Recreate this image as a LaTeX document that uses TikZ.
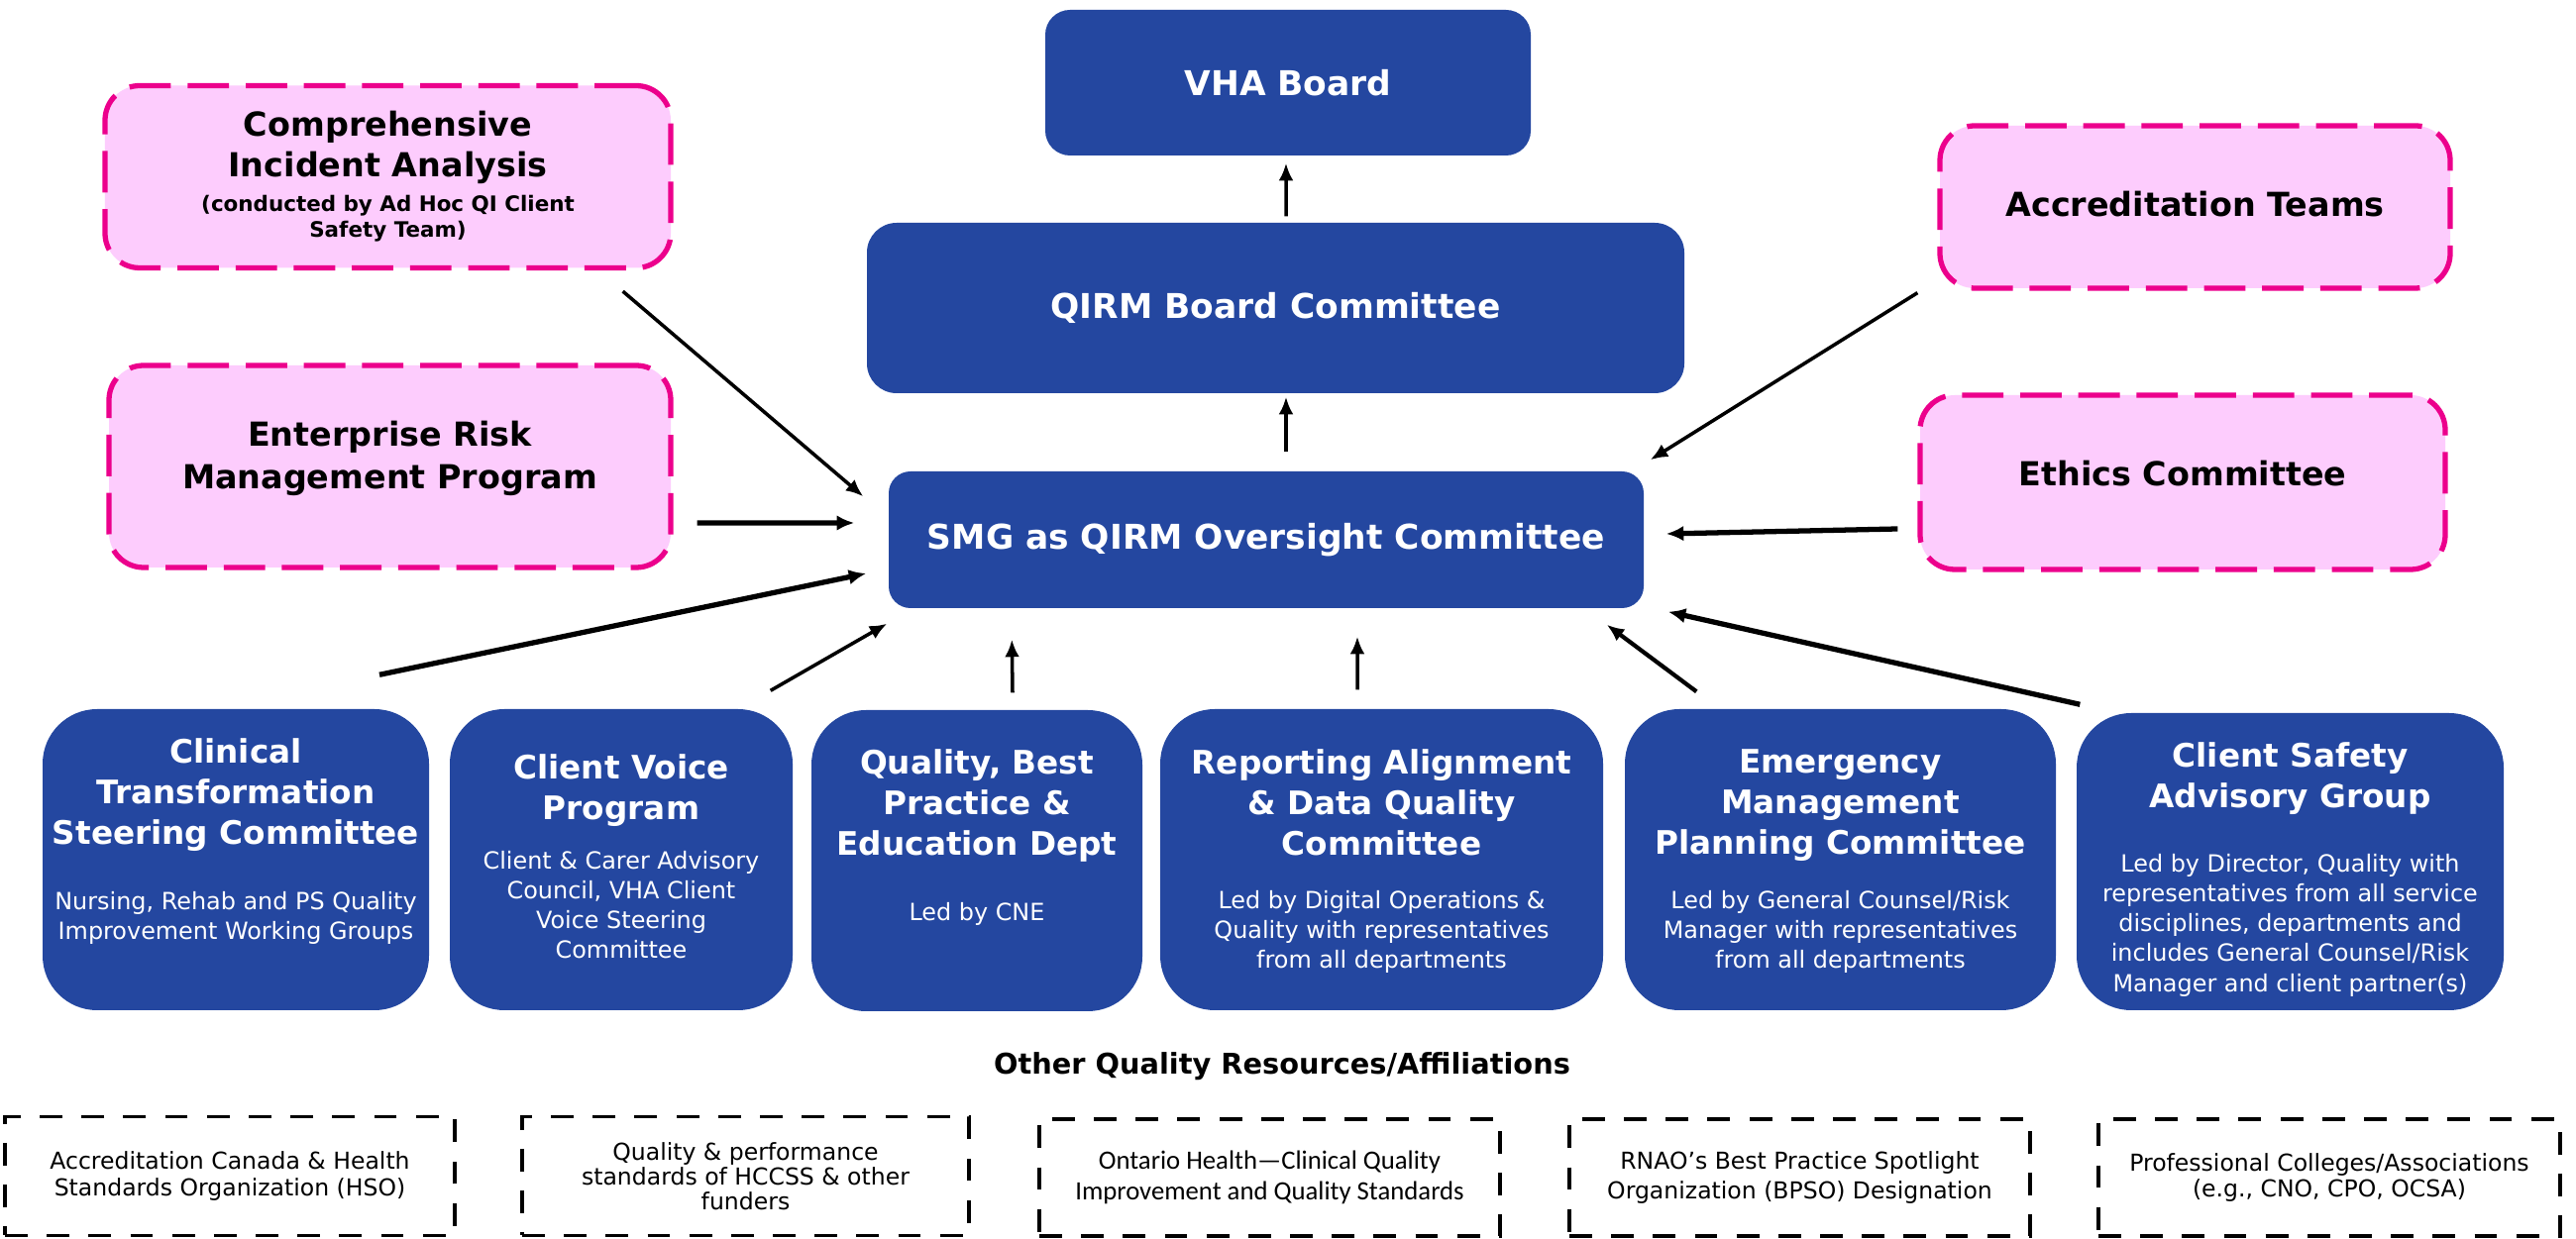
\documentclass[tikz,border=0pt]{standalone}
\usepackage{fontspec}
\setmainfont{DejaVu Sans}
\newfontfamily\carlito{Carlito}
\usetikzlibrary{positioning,arrows.meta}
\definecolor{vhablue}{RGB}{36,71,160}
\definecolor{pinkfill}{RGB}{253,204,253}
\definecolor{pinkedge}{RGB}{236,0,140}
\newcommand{\notefont}{\fontsize{6.1}{7.4}\selectfont}

\begin{document}
\begin{tikzpicture}[
    topnode/.style={rectangle, rounded corners=0.25cm, fill=vhablue, text=white, inner sep=0pt, align=center, font=\bfseries\fontsize{9.8}{11.7}\selectfont},
    pinknode/.style={rectangle, rounded corners=0.35cm, draw=pinkedge, fill=pinkfill, line width=1.5pt, dash pattern=on 11.9pt off 4.8pt, inner sep=0pt, align=center, font=\bfseries\fontsize{9.5}{12.2}\selectfont},
    groupnode/.style={rectangle, rounded corners=0.55cm, fill=vhablue, inner sep=0pt, minimum height=3.04cm},
    grouptitle/.style={text=white, inner sep=0pt, align=center, font=\bfseries\fontsize{9.3}{11.6}\selectfont},
    groupbody/.style={text=white, inner sep=0pt, align=center, font=\fontsize{6.8}{8.6}\selectfont},
    affilnode/.style={rectangle, draw=black, line width=0.95pt, dash pattern=on 6.5pt off 5.5pt, inner sep=0pt, minimum height=1.2cm, align=center, font=\fontsize{6.7}{7.6}\selectfont},
    link/.style={-{Latex[length=5pt,width=4.2pt]}, line width=1pt},
    boldlink/.style={-{Latex[length=5pt,width=4.4pt]}, line width=1.5pt}
   ]
   \path[use as bounding box, fill=white] (0,0) rectangle (26,-12.51);

   % governance chain
   \node[topnode, minimum width=4.90cm, minimum height=1.47cm] (vhaBoard) at (13.00,-0.835) {VHA Board};
   \node[topnode, rounded corners=0.3cm, minimum width=8.25cm, minimum height=1.72cm] (qirmBoard) at (12.875,-3.11) {QIRM Board Committee};
   \node[topnode, rounded corners=0.22cm, minimum width=7.62cm, minimum height=1.38cm] (smgOversight) at (12.78,-5.45) {SMG as QIRM Oversight Committee};

   % side inputs
   \node[pinknode, minimum width=5.71cm, minimum height=1.84cm] (compIncident) at (3.915,-1.785) {Comprehensive\\[-0.5pt]Incident Analysis\\[-2.2pt]\notefont (conducted by Ad Hoc QI Client\\[-4.8pt]\notefont Safety Team)};
   \node[pinknode, minimum width=5.67cm, minimum height=2.04cm, text depth=0.24cm] (enterpriseRisk) at (3.935,-4.71) {Enterprise Risk\\Management Program};
   \node[pinknode, minimum width=5.15cm, minimum height=1.64cm, text height=0.25cm, text depth=0.06cm] (accreditationTeams) at (22.155,-2.09) {Accreditation Teams};
   \node[pinknode, minimum width=5.30cm, minimum height=1.76cm, text height=0.25cm, text depth=0.17cm] (ethicsCommittee) at (22.03,-4.87) {Ethics Committee};

   % committees and programs
   \node[groupnode, minimum width=3.90cm] (clinicalSteering) at (2.38,-8.68) {};
   \node[grouptitle, below=0.30cm of clinicalSteering.north] (clinicalSteeringTitle) {Clinical\\Transformation\\Steering Committee};
   \node[groupbody, below=1.84cm of clinicalSteering.north] (clinicalSteeringBody) {Nursing, Rehab and PS Quality\\Improvement Working Groups};

   \node[groupnode, minimum width=3.46cm] (clientVoice) at (6.27,-8.68) {};
   \node[grouptitle, below=0.46cm of clientVoice.north] (clientVoiceTitle) {Client Voice\\Program};
   \node[groupbody, below=1.43cm of clientVoice.north] (clientVoiceBody) {Client \& Carer Advisory\\Council, VHA Client\\Voice Steering\\Committee};

   \node[groupnode, minimum width=3.34cm] (qualityEducation) at (9.86,-8.69) {};
   \node[grouptitle, below=0.40cm of qualityEducation.north] (qualityEducationTitle) {Quality, Best\\Practice \&\\Education Dept};
   \node[groupbody, below=1.94cm of qualityEducation.north] (qualityEducationBody) {Led by CNE};

   \node[groupnode, minimum width=4.47cm] (reportingAlignment) at (13.945,-8.68) {};
   \node[grouptitle, below=0.41cm of reportingAlignment.north] (reportingAlignmentTitle) {Reporting Alignment\\\& Data Quality\\Committee};
   \node[groupbody, below=1.83cm of reportingAlignment.north] (reportingAlignmentBody) {Led by Digital Operations \&\\Quality with representatives\\from all departments};

   \node[groupnode, minimum width=4.35cm] (emergencyPlanning) at (18.575,-8.68) {};
   \node[grouptitle, below=0.41cm of emergencyPlanning.north] (emergencyPlanningTitle) {Emergency\\Management\\Planning Committee};
   \node[groupbody, below=1.83cm of emergencyPlanning.north] (emergencyPlanningBody) {Led by General Counsel/Risk\\Manager with representatives\\from all departments};

   \node[groupnode, minimum width=4.31cm, minimum height=3.00cm] (clientSafety) at (23.115,-8.70) {};
   \node[grouptitle, below=0.30cm of clientSafety.north] (clientSafetyTitle) {Client Safety\\Advisory Group};
   \node[groupbody, below=1.42cm of clientSafety.north] (clientSafetyBody) {Led by Director, Quality with\\representatives from all service\\disciplines, departments and\\includes General Counsel/Risk\\Manager and client partner(s)};

   % other resources
   \node[font=\bfseries\fontsize{8.2}{10}\selectfont] (otherResources) at (12.94,-10.77) {Other Quality Resources/Affiliations};
   \node[affilnode, minimum width=4.54cm] (accreditationCanada) at (2.32,-11.875) {Accreditation Canada \& Health\\Standards Organization (HSO)};
   \node[affilnode, minimum width=4.51cm] (hccssStandards) at (7.525,-11.875) {Quality \& performance\\[-0.5pt]standards of HCCSS \& other\\[-0.5pt]funders};
   \node[affilnode, minimum width=4.65cm, minimum height=1.18cm, font=\carlito\fontsize{7.6}{9}\selectfont] (ontarioHealth) at (12.815,-11.89) {Ontario Health—Clinical Quality\\Improvement and Quality Standards};
   \node[affilnode, minimum width=4.65cm, minimum height=1.18cm] (rnaoBpso) at (18.165,-11.89) {RNAO’s Best Practice Spotlight\\[0.8pt]Organization (BPSO) Designation};
   \node[affilnode, minimum width=4.66cm, minimum height=1.18cm] (professionalColleges) at (23.51,-11.89) {Professional Colleges/Associations\\(e.g., CNO, CPO, OCSA)};

  \draw[link] ([shift={(0.20,0.19)}]smgOversight.north) -- ([shift={(0.105,-0.03)}]qirmBoard.south);
  \draw[link] ([shift={(0.105,0.06)}]qirmBoard.north) -- ([shift={(-0.02,-0.07)}]vhaBoard.south);
  \draw[link] ([shift={(-0.51,-0.21)}]compIncident.south east) -- ([shift={(-0.25,-0.26)}]smgOversight.north west);
  \draw[boldlink] ([shift={(0.24,-0.57)}]enterpriseRisk.east) -- ([shift={(-0.34,0.17)}]smgOversight.west);
  \draw[boldlink] ([shift={(1.45,0.34)}]clinicalSteering.north) -- ([shift={(-0.22,-0.34)}]smgOversight.west);
  \draw[link] ([shift={(-0.23,0.18)}]clientVoice.north east) -- ([shift={(-0.01,-0.15)}]smgOversight.south west);
  \draw[link] ([shift={(0.36,0.17)}]qualityEducation.north) -- ([shift={(1.25,-0.31)}]smgOversight.south west);
  \draw[link] ([shift={(-0.245,0.19)}]reportingAlignment.north) -- ([shift={(0.92,-0.28)}]smgOversight.south);
  \draw[link, line width=1.2pt] ([shift={(0.73,0.17)}]emergencyPlanning.north west) -- ([shift={(-0.38,-0.16)}]smgOversight.south east);
  \draw[boldlink] ([shift={(0.04,0.08)}]clientSafety.north west) -- ([shift={(0.24,-0.03)}]smgOversight.south east);
  \draw[link] ([shift={(-0.20,-0.02)}]accreditationTeams.south west) -- ([shift={(0.06,0.11)}]smgOversight.north east);
  \draw[boldlink] ([shift={(-0.20,-0.47)}]ethicsCommittee.west) -- ([shift={(0.22,0.06)}]smgOversight.east);
 \end{tikzpicture}
\end{document}
